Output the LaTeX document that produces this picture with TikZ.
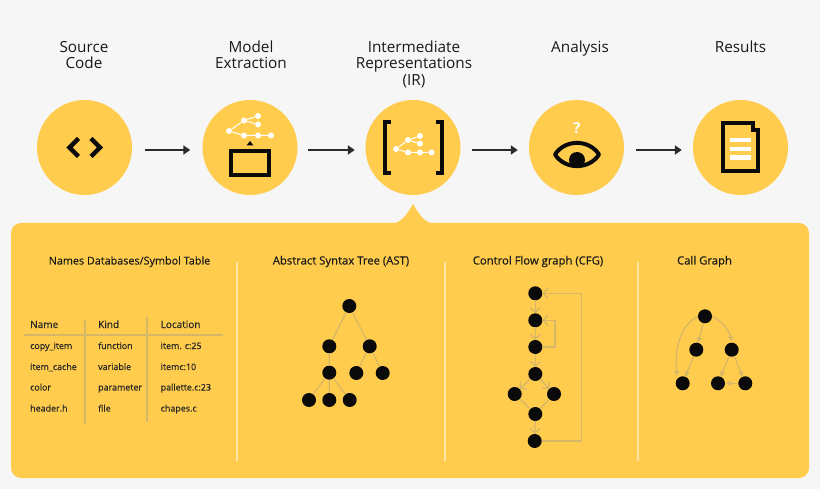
\documentclass[tikz,border=0pt]{standalone}
\usepackage{fontspec}
\setmainfont{Open Sans}
\newfontfamily\semifont[FakeBold=0.25]{Open Sans}
\usetikzlibrary{arrows.meta}
\definecolor{pagebg}{HTML}{F6F6F6}
\definecolor{gold}{HTML}{FFCC4D}
\definecolor{inkc}{HTML}{0A0A0A}
\definecolor{edgec}{HTML}{D6B667}
\definecolor{divc}{HTML}{FFE6A6}
\definecolor{arrowc}{HTML}{2A2A2A}
\tikzset{
  stage/.style={circle,fill=gold,minimum size=95pt,inner sep=0pt},
  steptitle/.style={font=\fontsize{15.3}{16.5}\selectfont,align=center,text=black!90,inner sep=0pt,anchor=base},
  paneltitle/.style={font=\semifont\fontsize{#1}{12}\selectfont,text=black!90,inner sep=0pt,anchor=base},
  paneltitle/.default=11.3,
  tablehead/.style={font=\semifont\fontsize{10}{11}\selectfont,text=black!85,inner sep=0pt,anchor=base west},
  tablecell/.style={font=\semifont\fontsize{8.9}{10}\selectfont,text=black!85,inner sep=0pt,anchor=base west},
  flow/.style={draw=arrowc,line width=2.8pt,-{Triangle[length=7pt,width=9pt]}},
  dot/.style={circle,fill=inkc,minimum size=14pt,inner sep=0pt},
  wdot/.style={circle,fill=white,minimum size=#1,inner sep=0pt},
  wdot/.default=6pt,
  wedge/.style={draw=white,line width=1pt},
  glyph/.style={draw=inkc,line width=4.2pt},
  treeedge/.style={draw=edgec,line width=1.2pt},
  flowedge/.style={draw=edgec,line width=1.3pt,-{Straight Barb[length=4.5pt,width=10pt]}},
  calledge/.style={draw=edgec,line width=1.2pt,-{Triangle[length=5pt,width=5pt]}},
  divider/.style={draw=divc,line width=1.4pt},
  tablerule/.style={draw=edgec,line width=1.3pt},
}
\begin{document}
\begin{tikzpicture}[x=1pt,y=-1pt]
\useasboundingbox (0,0) rectangle (820,489);
\fill[pagebg] (0,0) rectangle (820,489);

% panel with pointer
\fill[gold,rounded corners=10pt] (11,223) rectangle (809,478);
\fill[gold] (391,224) .. controls (402,223) and (407,214) .. (413,204)
  .. controls (419,214) and (424,223) .. (435,224) -- cycle;

% stages
\node[stage] (s1) at (84.5,147.5) {};
\node[stage] (s2) at (250,147.5) {};
\node[stage] (s3) at (413,147.5) {};
\node[stage] (s4) at (576.5,147.5) {};
\node[stage] (s5) at (740.5,147.5) {};
\draw[flow,shorten <=13pt,shorten >=12pt] ([yshift=-2.5pt]s1.east) -- ([yshift=-2.5pt]s2.west);
\draw[flow,shorten <=10.5pt,shorten >=10.5pt] ([yshift=-2.5pt]s2.east) -- ([yshift=-2.5pt]s3.west);
\draw[flow,shorten <=11.5pt,shorten >=11pt] ([yshift=-2.5pt]s3.east) -- ([yshift=-2.5pt]s4.west);
\draw[flow,shorten <=12pt,shorten >=11pt] ([yshift=-2.5pt]s4.east) -- ([yshift=-2.5pt]s5.west);

% step titles
\node[steptitle] (t1) at (84,69) {Source\\Code};
\node[steptitle] (t2) at (251,69) {Model\\Extraction};
\node[steptitle] (t3) at (414,85.5) {Intermediate\\Representations\\(IR)};
\node[steptitle] (t4) at (580,53) {Analysis};
\node[steptitle] (t5) at (740.5,53) {Results};

% code icon
\draw[glyph,line width=4.4pt,line join=miter] (78.5,138.5) -- (69.5,147.5) -- (78.5,156.5);
\draw[glyph,line width=4.4pt,line join=miter] (91,138.5) -- (100,147.5) -- (91,156.5);

% model icon
\draw[glyph] (231.2,151.2) rectangle (268.8,174.8);
\fill[inkc] (250,141) -- (253.5,145.5) -- (246.5,145.5) -- cycle;
\node[wdot] (ma) at (229,131) {};
\node[wdot] (mb) at (244,120.5) {};
\node[wdot] (mc) at (258,116) {};
\node[wdot] (md) at (258,124.5) {};
\node[wdot] (me) at (244,135.5) {};
\node[wdot] (mf) at (258,135.5) {};
\node[wdot] (mg) at (271,135.5) {};
\draw[wedge] (ma)--(mb) (mb)--(mc) (mb)--(md) (ma)--(me) (me)--(mf) (mf)--(mg);

% IR icon
\draw[glyph,line width=4.2pt] (391,122) -- (385.1,122) -- (385.1,173) -- (391,173);
\draw[glyph,line width=4.2pt] (436,122) -- (441.9,122) -- (441.9,173) -- (436,173);
\node[wdot] (ia) at (396,149) {};
\node[wdot] (ib) at (408,140) {};
\node[wdot] (ic) at (420,136) {};
\node[wdot] (id) at (420,143.5) {};
\node[wdot] (ie) at (408,152.5) {};
\node[wdot] (if) at (420,152.5) {};
\node[wdot] (ig) at (431.5,152.5) {};
\draw[wedge] (ia)--(ib) (ib)--(ic) (ib)--(id) (ia)--(ie) (ie)--(if) (if)--(ig);

% analysis icon
\node[font=\fontsize{15}{15}\bfseries\selectfont,text=white,inner sep=0pt] (qm) at (577,128.5) {?};
\begin{scope}
  \clip (555,154.5) .. controls (565,139) and (589,139) .. (599,154.5)
        .. controls (589,170) and (565,170) .. (555,154.5) -- cycle;
  \fill[inkc] (577,160) circle[radius=8];
\end{scope}
\draw[glyph,line width=4pt,line join=round] (555,154.5) .. controls (565,139) and (589,139) .. (599,154.5)
        .. controls (589,170) and (565,170) .. (555,154.5) -- cycle;

% results icon
\draw[glyph,line width=4.2pt,line join=miter] (723,123) -- (753,123) -- (753,130) -- (758,130) -- (758,171) -- (723,171) -- cycle;
\fill[white] (730,138) rectangle (751,142.5);
\fill[white] (730,147) rectangle (751,151.5);
\fill[white] (730,155.5) rectangle (751,160);

% panel titles
\node[paneltitle=10.8] (h1) at (129.5,264.5) {Names Databases/Symbol Table};
\node[paneltitle] (h2) at (341,264.5) {Abstract Syntax Tree (AST)};
\node[paneltitle] (h3) at (538,264.5) {Control Flow graph (CFG)};
\node[paneltitle] (h4) at (704.5,264.5) {Call Graph};

% dividers
\coordinate (d1a) at (237,262); \coordinate (d1b) at (237,461);
\coordinate (d2a) at (445,262); \coordinate (d2b) at (445,461);
\coordinate (d3a) at (638,262); \coordinate (d3b) at (638,461);
\draw[divider] (d1a)--(d1b);
\draw[divider] (d2a)--(d2b);
\draw[divider] (d3a)--(d3b);

% table
\coordinate (ra) at (24,335); \coordinate (rb) at (223,335);
\coordinate (va) at (85,320); \coordinate (vb) at (85,424);
\coordinate (vc) at (147,317); \coordinate (vd) at (147,422);
\draw[tablerule] (ra)--(rb);
\draw[tablerule] (va)--(vb);
\draw[tablerule] (vc)--(vd);
\node[tablehead] (n0) at (30,328) {Name};
\node[tablehead] (k0) at (98,328) {Kind};
\node[tablehead] (l0) at (160.5,328) {Location};
\node[tablecell] (n1) at (30,349) {copy\_item};
\node[tablecell] (k1) at (98,349) {function};
\node[tablecell] (l1) at (160.5,349) {item. c:25};
\node[tablecell] (n2) at (30,370) {item\_cache};
\node[tablecell] (k2) at (98,370) {variable};
\node[tablecell] (l2) at (160.5,370) {itemc:10};
\node[tablecell] (n3) at (30,390.5) {color};
\node[tablecell] (k3) at (98,390.5) {parameter};
\node[tablecell] (l3) at (160.5,390.5) {pallette.c:23};
\node[tablecell] (n4) at (30,411.5) {header.h};
\node[tablecell] (k4) at (98,411.5) {file};
\node[tablecell] (l4) at (160.5,411.5) {chapes.c};

% AST
\node[dot] (a1) at (349.3,306) {};
\node[dot] (a2) at (329.3,346.3) {};
\node[dot] (a3) at (369.7,346.3) {};
\node[dot] (a4) at (329.3,372.7) {};
\node[dot] (a5) at (356.3,373) {};
\node[dot] (a6) at (382.7,373) {};
\node[dot] (a7) at (309,400) {};
\node[dot] (a8) at (329.3,400) {};
\node[dot] (a9) at (349.7,400) {};
\draw[treeedge] (a1)--(a2) (a1)--(a3) (a2)--(a4) (a3)--(a5) (a3)--(a6) (a4)--(a7) (a4)--(a8) (a4)--(a9);

% CFG
\node[dot] (c1) at (535.3,293.3) {};
\node[dot] (c2) at (535.3,320.3) {};
\node[dot] (c3) at (535.3,347) {};
\node[dot] (c4) at (535.3,374) {};
\node[dot] (c5) at (514.7,394) {};
\node[dot] (c6) at (554,394) {};
\node[dot] (c7) at (535.3,414) {};
\node[dot] (c8) at (534.7,441) {};
\draw[flowedge] (c1)--(c2);
\draw[flowedge] (c2)--(c3);
\draw[flowedge] (c3)--(c4);
\draw[flowedge] (c4)--(c5);
\draw[flowedge] (c4)--(c6);
\draw[treeedge] (c5)--(c7);
\draw[treeedge] (c6)--(c7);
\draw[flowedge] (c7)--(c8);
\draw[flowedge] (c3.east) -- (555,347) -- (555,320.3) -- (c2.east);
\draw[flowedge] (c8.east) -- (581.7,441) -- (581.7,293.3) -- (c1.east);

% Call graph
\node[dot] (g1) at (705,316.3) {};
\node[dot] (g2) at (696.3,349.7) {};
\node[dot] (g3) at (731.7,349.7) {};
\node[dot] (g4) at (682.7,383.3) {};
\node[dot] (g5) at (718,383.3) {};
\node[dot] (g6) at (745.3,383.3) {};
\draw[calledge] (g1.west) .. controls (685,323) and (674,340) .. (677,376);
\draw[calledge] (g1)--(g2);
\draw[calledge] (g1.east) .. controls (720,320) and (728,328) .. (732,341);
\draw[calledge] (g2)--(g4);
\draw[calledge] (g3)--(g5);
\draw[calledge] (g3)--(g6);
\draw[calledge,shorten <=1pt,shorten >=1pt] (g6)--(g5);
\end{tikzpicture}
\end{document}
